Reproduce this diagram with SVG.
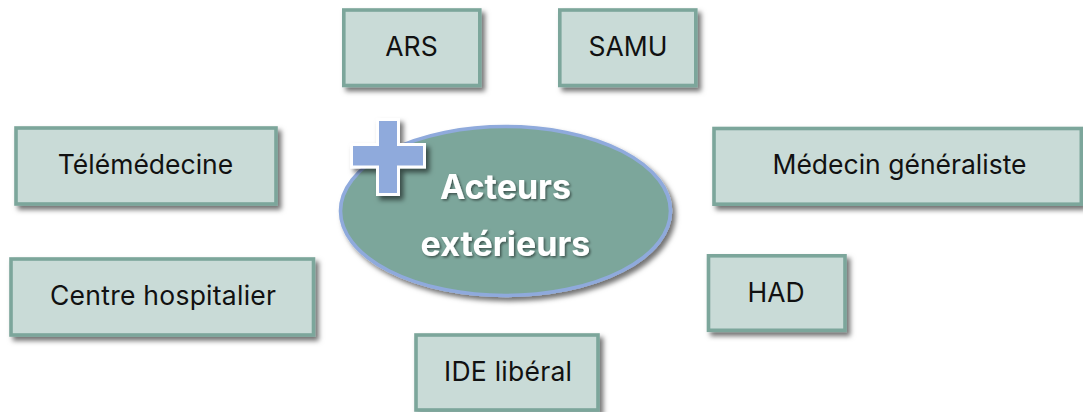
<svg xmlns="http://www.w3.org/2000/svg" width="1083" height="412" viewBox="0 0 1083 412">
<defs>
<filter id="sh" x="-20%" y="-20%" width="140%" height="140%"><feDropShadow dx="3.5" dy="4" stdDeviation="2.5" flood-color="#000" flood-opacity="0.55"/></filter>
<filter id="ts" x="-20%" y="-30%" width="140%" height="160%"><feDropShadow dx="1.5" dy="1.5" stdDeviation="1.3" flood-color="#000" flood-opacity="0.5"/></filter>
</defs>
<style>
.b{fill:#c9dbd7;stroke:#7ca69b;stroke-width:3.6;filter:url(#sh)}
.t{font-family:"Inter","Liberation Sans",sans-serif;font-size:26.5px;fill:#111;text-anchor:middle}
.c{font-family:"Inter","Liberation Sans",sans-serif;font-size:34px;font-weight:700;fill:#fff;text-anchor:middle;filter:url(#ts)}
</style>
<rect width="1083" height="412" fill="#fff"/>
<g id="connectors"/>
<g id="ars"><rect class="b" x="343.8" y="10" width="136" height="75.5"/><text class="t" x="411.5" y="56">ARS</text></g>
<g id="samu"><rect class="b" x="559.8" y="10" width="136" height="75.5"/><text class="t" x="628" y="56">SAMU</text></g>
<g id="telemedecine"><rect class="b" x="16" y="128" width="260" height="76"/><text class="t" x="145.5" y="174">Télémédecine</text></g>
<g id="medecin"><rect class="b" x="714" y="128.5" width="367.3" height="75.7"/><text class="t" x="899.5" y="174">Médecin généraliste</text></g>
<g id="centre"><rect class="b" x="11" y="259" width="302.5" height="76"/><text class="t" x="163" y="305" textLength="226">Centre hospitalier</text></g>
<g id="had"><rect class="b" x="708.5" y="255.8" width="136.5" height="74.5"/><text class="t" x="776" y="302">HAD</text></g>
<g id="ide"><rect class="b" x="416" y="335" width="182" height="75"/><text class="t" x="508" y="381" textLength="128">IDE libéral</text></g>
<g id="centre-acteurs">
<ellipse cx="505.5" cy="211" rx="165" ry="84.5" fill="#7ca69b" stroke="#8faadc" stroke-width="3.6" filter="url(#sh)"/>
<text class="c" x="505.5" y="199">Acteurs</text><text class="c" x="505.5" y="256">extérieurs</text>
<path d="M377.5 119.500h21v25h26v22.500h-26v27.500h-21v-27.500h-26v-22.500h26z" fill="#8faadc" stroke="#fff" stroke-width="3" filter="url(#sh)"/>
</g>
</svg>
